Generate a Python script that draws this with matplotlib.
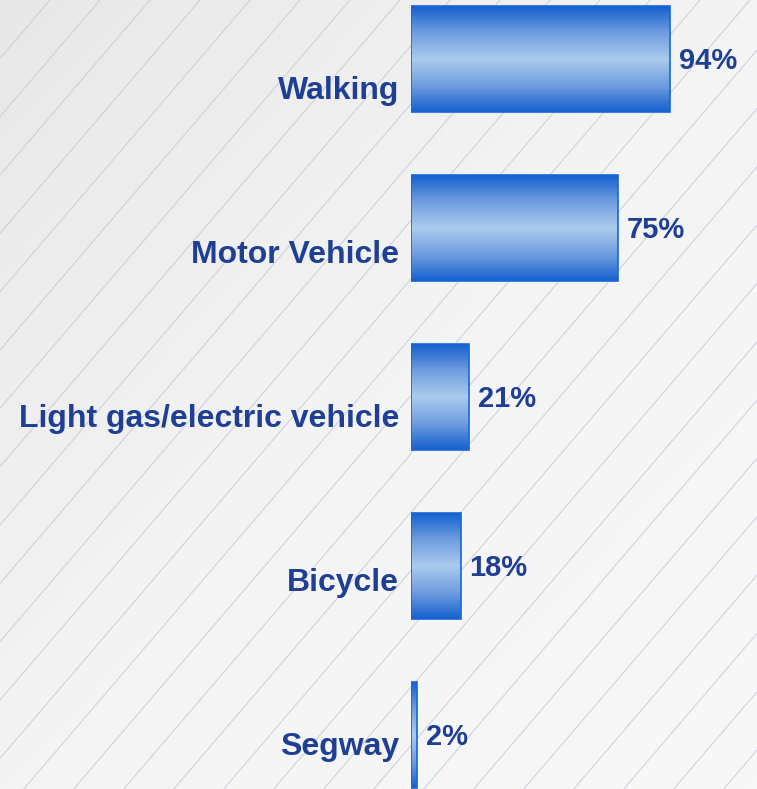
import numpy as np
import matplotlib
matplotlib.use("Agg")
import matplotlib.pyplot as plt
from matplotlib.colors import LinearSegmentedColormap

categories = ["Walking", "Motor Vehicle", "Light gas/electric vehicle", "Bicycle", "Segway"]
values = [94, 75, 21, 18, 2]
value_labels = ["94%", "75%", "21%", "18%", "2%"]

W, H, DPI = 757, 789, 100
TEXT_COLOR = "#1e3f94"
plt.rcParams["font.family"] = ["Liberation Sans", "DejaVu Sans"]


def px(p):
    # pixels -> points
    return p / DPI * 72


fig = plt.figure(figsize=(W / DPI, H / DPI), dpi=DPI)

# background: soft grey gradient with thin diagonal lines
bg = fig.add_axes([0, 0, 1, 1])
bg.set_xlim(0, W)
bg.set_ylim(H, 0)
bg.axis("off")
yy, xx = np.mgrid[0:H:4, 0:W:4]
shade = (xx / W + yy / H) / 2
bg_cmap = LinearSegmentedColormap.from_list("bg", ["#e8e8e8", "#f4f4f4", "#f8f8f8"])
bg.imshow(shade, cmap=bg_cmap, extent=(0, W, H, 0), aspect="auto", zorder=0)
for x0 in range(-1000, 1600, 50):
    bg.plot([x0, x0 - 60 * 12], [0, 70 * 12], color="#c6c9df", lw=0.65, zorder=1)

# bar axes: x in percent, rows 0..4 top to bottom
px_per_pct = 2.755
left_px = 411
row_px = 169
first_center = 59
ax = fig.add_axes([left_px / W, 0, 1 - left_px / W, 1])
ax.set_xlim(0, (W - left_px) / px_per_pct)
ax.axis("off")
ax.patch.set_alpha(0)

bar_h = 106 / row_px
bar_cmap = LinearSegmentedColormap.from_list(
    "bar", ["#1560cf", "#6f9ddf", "#abcbee", "#6f9ddf", "#1560cf"])
grad = np.linspace(0, 1, 256).reshape(-1, 1)

for i, (cat, v, lab) in enumerate(zip(categories, values, value_labels)):
    top, bottom = i - bar_h / 2, i + bar_h / 2
    ax.imshow(grad, cmap=bar_cmap, extent=(0, v, bottom, top),
              aspect="auto", interpolation="bilinear", zorder=2)
    ax.add_patch(plt.Rectangle((0, top), v, bar_h, fill=False,
                               edgecolor="#1667d8", lw=1.2, zorder=3))
    ax.annotate(lab, (v, i), xytext=(px(9), -px(10)), textcoords="offset points",
                ha="left", va="baseline", fontsize=21, fontweight="bold",
                color=TEXT_COLOR)
    ax.annotate(cat, (0, i), xytext=(-px(12), -px(40 - 5 * i)),
                textcoords="offset points", ha="right", va="baseline",
                fontsize=23, fontweight="bold", color=TEXT_COLOR,
                annotation_clip=False)

ax.set_ylim((H - first_center) / row_px, -first_center / row_px)
fig.savefig("out.png", dpi=DPI)
